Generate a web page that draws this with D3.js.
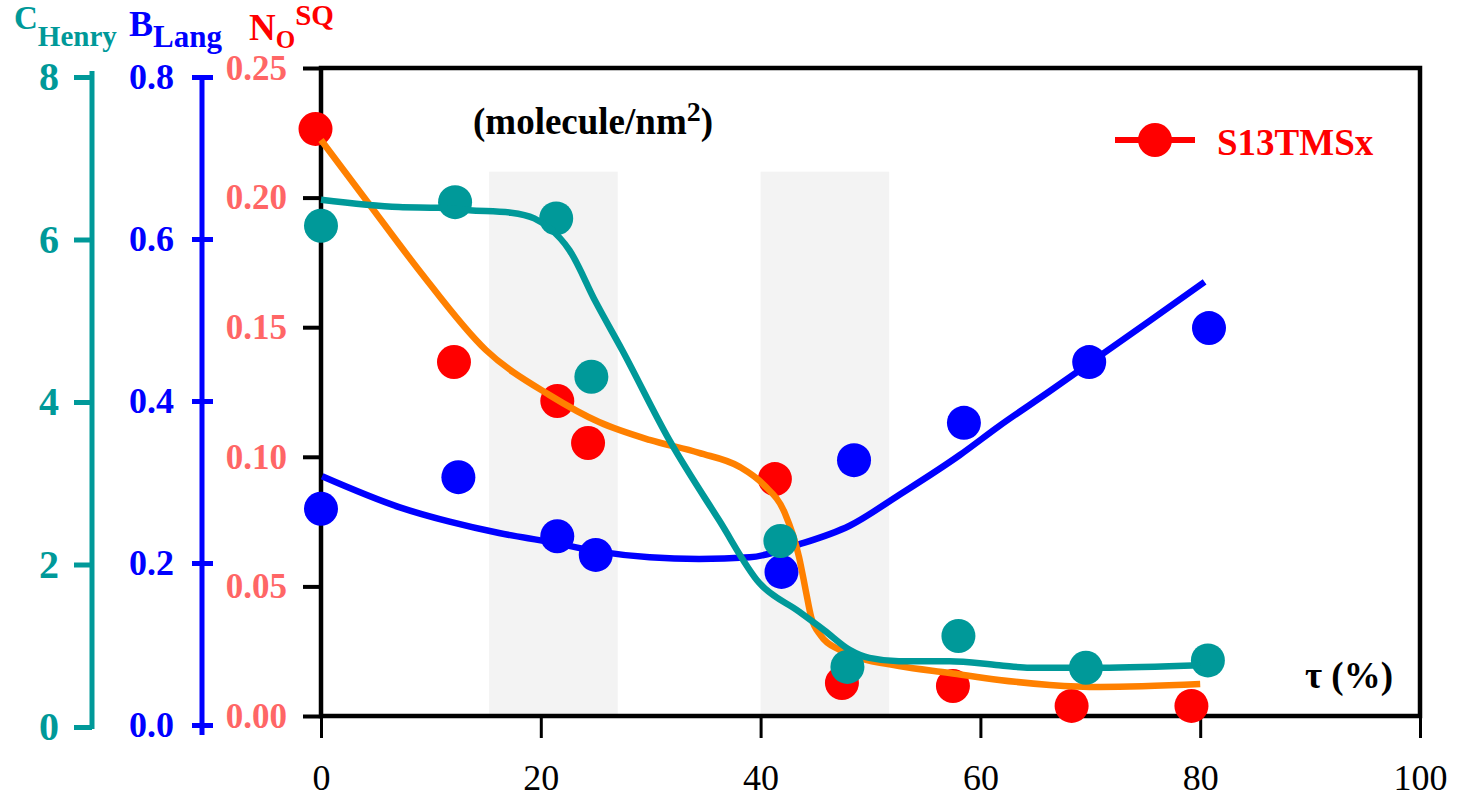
<!DOCTYPE html>
<html>
<head>
<meta charset="utf-8">
<script src="https://cdn.jsdelivr.net/npm/d3@7"></script>
<style>
  body { margin: 0; background: #fff; }
  svg text { font-family: "Liberation Serif", "Times New Roman", serif; }
</style>
</head>
<body>
<div class="chart"></div>
<script>
// tau (%) positions and measured values
const redTau = [-0.5, 12.1, 21.5, 24.3, 41.3, 47.4, 57.5, 68.3, 79.2];
const redNO = [0.2265, 0.1366, 0.1215, 0.1053, 0.0914, 0.0127, 0.0116, 0.0039, 0.0039];

const orangeTau = [0, 4.1, 8.9, 15.0, 20.8, 25.3, 29.9, 34.4, 38.1, 40.3, 42.2, 43.5, 44.1, 44.6, 45.5, 47.2, 49.0, 52.6, 57.2, 61.7, 66.3, 70.9, 80.0];
const orangeNO = [0.2222, 0.1991, 0.1721, 0.1412, 0.1238, 0.1134, 0.1065, 0.1015, 0.0961, 0.0891, 0.0783, 0.0613, 0.0486, 0.0382, 0.0309, 0.0255, 0.0224, 0.0193, 0.0166, 0.0139, 0.0120, 0.0112, 0.0123];

const tealTau = [0, 12.2, 21.4, 24.6, 41.8, 47.9, 58.0, 69.6, 80.7];
const tealC = [6.17, 6.46, 6.26, 4.31, 2.29, 0.74, 1.12, 0.73, 0.82];

const tealFitTau = [0, 7.1, 10.7, 13.5, 17.3, 19.4, 20.8, 22.6, 25.0, 27.4, 31.7, 36.2, 39.9, 43.5, 45.8, 48.1, 49.9, 52.6, 57.2, 61.7, 64.5, 70.9, 80.0];
const tealFitC = [6.49, 6.40, 6.39, 6.36, 6.33, 6.26, 6.14, 5.87, 5.23, 4.64, 3.53, 2.55, 1.77, 1.42, 1.19, 0.95, 0.85, 0.81, 0.81, 0.76, 0.73, 0.73, 0.76];

const blueTau = [0, 12.5, 21.5, 25.0, 41.9, 48.5, 58.5, 69.9, 80.8];
const blueB = [0.267, 0.306, 0.233, 0.210, 0.189, 0.327, 0.373, 0.448, 0.490];

const blueFitTau = [0.1, 7.1, 11.7, 16.2, 20.8, 25.3, 29.9, 34.4, 39.0, 43.5, 48.1, 52.6, 58.1, 61.7, 66.3, 70.9, 75.4, 80.4];
const blueFitB = [0.307, 0.269, 0.251, 0.237, 0.226, 0.214, 0.207, 0.205, 0.207, 0.223, 0.246, 0.284, 0.333, 0.369, 0.412, 0.456, 0.499, 0.547];

const bandStart = [15.3, 40.0];
const bandEnd = [27.0, 51.7];
const bandTop = 0.21;

const xTicks = [0, 20, 40, 60, 80, 100];
const noTicks = [0, 0.05, 0.10, 0.15, 0.20, 0.25];
const bTicks = [0, 0.2, 0.4, 0.6, 0.8];
const cTicks = [0, 2, 4, 6, 8];

const w = 1463;
const h = 800;
const teal = "#009999";
const blue = "#0000ff";
const red = "#ff0000";
const salmon = "#ff6666";
const orange = "#ff8000";

const svg = d3.select(".chart").append("svg").attr("width", w).attr("height", h);

const x = d3.scaleLinear().domain([0, 100]).range([321, 1420]);
const yN = d3.scaleLinear().domain([0, 0.25]).range([716, 68]);
const yC = d3.scaleLinear().domain([0, 8]).range([727, 77]);
const yB = d3.scaleLinear().domain([0, 0.8]).range([725, 77]);

// shaded bands
svg.selectAll("rect.band")
    .data(bandStart)
    .enter()
    .append("rect")
    .attr("class", "band")
    .attr("x", d => x(d))
    .attr("width", (d, i) => x(bandEnd[i]) - x(d))
    .attr("y", yN(bandTop))
    .attr("height", yN(0) - yN(bandTop))
    .attr("fill", "#f3f3f3");

// x axis
const xAxis = svg.append("g")
    .attr("transform", "translate(0," + yN(0) + ")")
    .call(d3.axisBottom(x).tickValues(xTicks).tickSize(22).tickPadding(26));
xAxis.select(".domain").remove();
xAxis.selectAll("line").attr("stroke", "#000").attr("stroke-width", 3);
xAxis.selectAll("text").attr("font-size", 36).attr("fill", "#000");

// N_O axis (on frame)
const nAxis = svg.append("g")
    .attr("transform", "translate(321,0)")
    .call(d3.axisLeft(yN).tickValues(noTicks).tickFormat(d3.format(".2f")).tickSize(18).tickPadding(16));
nAxis.select(".domain").remove();
nAxis.selectAll("line").attr("stroke", "#000").attr("stroke-width", 4);
nAxis.selectAll("text").attr("font-size", 35).attr("font-weight", "bold").attr("fill", salmon);

// B_Lang axis
const bAxis = svg.append("g")
    .attr("transform", "translate(202,0)")
    .call(d3.axisLeft(yB).tickValues(bTicks).tickFormat(d3.format(".1f")).tickSize(10).tickSizeOuter(0).tickPadding(18));
bAxis.select(".domain").attr("stroke", blue).attr("stroke-width", 5).attr("d", "M0," + (yB(0) + 10) + "V" + yB(0.8));
bAxis.selectAll("line").attr("stroke", blue).attr("stroke-width", 5).attr("x1", 11);
bAxis.selectAll("text").attr("font-size", 36).attr("font-weight", "bold").attr("fill", blue);

// C_Henry axis
const cAxis = svg.append("g")
    .attr("transform", "translate(92,0)")
    .call(d3.axisLeft(yC).tickValues(cTicks).tickFormat(d3.format("d")).tickSize(18).tickSizeOuter(0).tickPadding(15));
cAxis.select(".domain").attr("stroke", teal).attr("stroke-width", 5).attr("d", "M0," + (yC(0) + 2) + "V" + (yC(8) - 6));
cAxis.selectAll("line").attr("stroke", teal).attr("stroke-width", 5);
cAxis.selectAll("text").attr("font-size", 40).attr("font-weight", "bold").attr("fill", teal);

// frame
svg.append("rect")
    .attr("x", x(0))
    .attr("y", yN(0.25))
    .attr("width", x(100) - x(0))
    .attr("height", yN(0) - yN(0.25))
    .attr("fill", "none")
    .attr("stroke", "#000")
    .attr("stroke-width", 4.5);

const r = 17;

const drawPoints = (taus, vals, y, color) => {
    svg.append("g")
        .selectAll("circle")
        .data(taus)
        .enter()
        .append("circle")
        .attr("cx", d => x(d))
        .attr("cy", (d, i) => y(vals[i]))
        .attr("r", r)
        .attr("fill", color);
};

const drawCurve = (taus, vals, y, color) => {
    const line = d3.line()
        .x(d => x(d))
        .y((d, i) => y(vals[i]))
        .curve(d3.curveMonotoneX);
    svg.append("path")
        .attr("d", line(taus))
        .attr("fill", "none")
        .attr("stroke", color)
        .attr("stroke-width", 6.5);
};

drawPoints(blueTau, blueB, yB, blue);
drawCurve(blueFitTau, blueFitB, yB, blue);
drawPoints(redTau, redNO, yN, red);
drawCurve(orangeTau, orangeNO, yN, orange);
drawPoints(tealTau, tealC, yC, teal);
drawCurve(tealFitTau, tealFitC, yC, teal);

// legend
svg.append("line")
    .attr("x1", 1115).attr("x2", 1195)
    .attr("y1", 140).attr("y2", 140)
    .attr("stroke", red).attr("stroke-width", 6);
svg.append("circle").attr("cx", 1155).attr("cy", 140).attr("r", r).attr("fill", red);
svg.append("text")
    .attr("x", 1217).attr("y", 155)
    .attr("font-size", 37).attr("font-weight", "bold").attr("fill", red)
    .text("S13TMSx");

// unit label
const unit = svg.append("text")
    .attr("x", 473).attr("y", 134)
    .attr("font-size", 37).attr("font-weight", "bold").attr("fill", "#000");
unit.append("tspan").text("(molecule/nm");
unit.append("tspan").attr("dy", -13).attr("font-size", 28).text("2");
unit.append("tspan").attr("dy", 13).text(")");

svg.append("text")
    .attr("x", 1393).attr("y", 688)
    .attr("text-anchor", "end")
    .attr("font-size", 37).attr("font-weight", "bold").attr("fill", "#000")
    .text("τ (%)");

// axis titles
const cTitle = svg.append("text").attr("x", 14).attr("y", 29)
    .attr("font-weight", "bold").attr("fill", teal);
cTitle.append("tspan").attr("font-size", 33).text("C");
cTitle.append("tspan").attr("font-size", 29).attr("dy", 17).text("Henry");

const bTitle = svg.append("text").attr("x", 129).attr("y", 36)
    .attr("font-weight", "bold").attr("fill", blue);
bTitle.append("tspan").attr("font-size", 36).text("B");
bTitle.append("tspan").attr("font-size", 31).attr("dy", 11).text("Lang");

const nTitle = svg.append("text").attr("x", 249).attr("y", 40)
    .attr("font-weight", "bold").attr("fill", red);
nTitle.append("tspan").attr("font-size", 37).text("N");
nTitle.append("tspan").attr("font-size", 25).attr("dy", 8).text("O");
nTitle.append("tspan").attr("font-size", 29).attr("dy", -23).text("SQ");
</script>
</body>
</html>
